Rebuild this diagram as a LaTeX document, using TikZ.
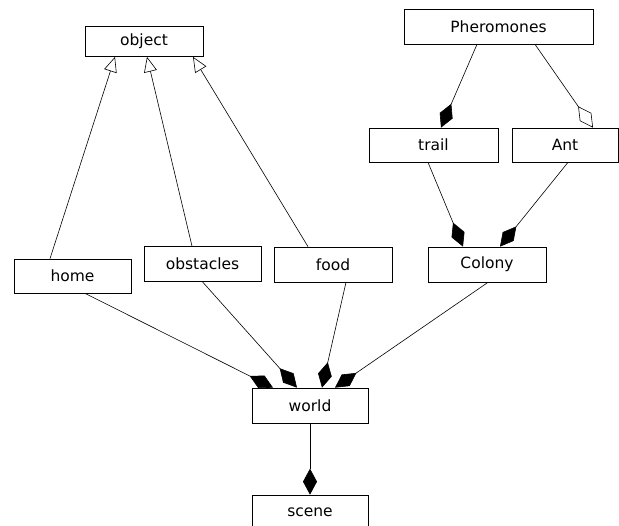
\documentclass[tikz,border=0pt]{standalone}
\usepackage{fontspec}
\setmainfont{DejaVu Sans}
\usetikzlibrary{arrows.meta}

\begin{document}
\begin{tikzpicture}[x=1pt, y=-1pt,
        box/.style={draw, rectangle, minimum width=118pt, minimum height=35pt, inner sep=0pt,
                    line width=0.7pt, font=\fontsize{15.5}{18}\selectfont},
        inherit/.style={-{Triangle[open,length=15pt,width=13pt]}, line width=0.6pt},
        part/.style={-{Diamond[length=26pt,width=14pt]}, line width=0.6pt},
        shared/.style={-{Diamond[open,length=26pt,width=14pt]}, line width=0.6pt}]
    \useasboundingbox (0,0) rectangle (619,526);
    % classes
    \node[box, minimum height=30pt] (object) at (144,41.5) {object};
    \node[box, minimum width=189pt] (pheromones) at (498.5,26.5) {Pheromones};
    \node[box, minimum width=129pt, minimum height=34pt] (trail) at (433.5,145) {trail};
    \node[box, minimum width=106pt, minimum height=34pt] (ant) at (565,145) {Ant};
    \node[box, minimum width=117pt, minimum height=34pt] (home) at (72.5,276) {home};
    \node[box, minimum width=117pt] (obstacles) at (202.5,264) {obstacles};
    \node[box] (food) at (333,264.5) {food};
    \node[box] (colony) at (487,264.5) {Colony};
    \node[box, minimum width=116pt] (world) at (310,405.5) {world};
    \node[box, minimum width=116pt, minimum height=34pt] (scene) at (310,512) {scene};
    % generalisation
    \draw[inherit] ([xshift=-22.5pt]home.north) -- ([xshift=-29pt]object.south);
    \draw[inherit] ([xshift=-10.5pt]obstacles.north) -- ([xshift=3pt]object.south);
    \draw[inherit] ([xshift=-25pt]food.north) -- ([xshift=49pt]object.south);
    % aggregation
    \draw[part] ([xshift=-21.5pt]pheromones.south) -- ([xshift=7.5pt]trail.north);
    \draw[shared] ([xshift=36.5pt]pheromones.south) -- ([xshift=28pt]ant.north);
    \draw[part] ([xshift=-5.5pt]trail.south) -- ([xshift=-24pt]colony.north);
    \draw[part] ([xshift=3pt]ant.south) -- ([xshift=13pt]colony.north);
    \draw[part] ([xshift=12.5pt]home.south) -- ([xshift=-37pt]world.north);
    \draw[part] (obstacles.south) -- ([xshift=-13pt]world.north);
    \draw[part] ([xshift=13pt]food.south) -- ([xshift=12pt]world.north);
    \draw[part] ([xshift=1pt]colony.south) -- ([xshift=25pt]world.north);
    \draw[part] (world) -- (scene);
\end{tikzpicture}
\end{document}
